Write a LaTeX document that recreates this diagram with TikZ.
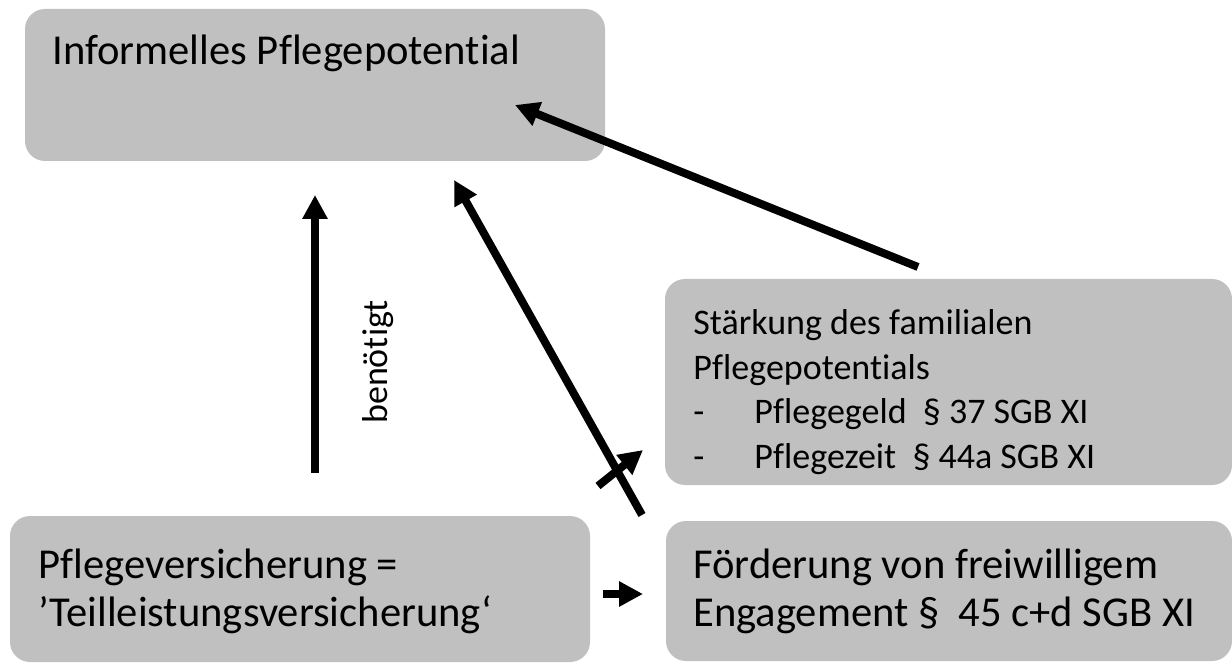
\documentclass[tikz,border=0pt]{standalone}
\usepackage{fontspec}
\setmainfont{Carlito}[Ligatures=NoCommon]
\usetikzlibrary{arrows.meta,positioning}
\definecolor{boxgray}{RGB}{192,192,192}

\begin{document}
\begin{tikzpicture}[x=0.5pt, y=-0.5pt, >={Triangle[length=12pt,width=12pt]},
    box/.style={rectangle, fill=boxgray, rounded corners=10pt, inner sep=0,
      outer sep=0, anchor=north west},
    txt/.style={anchor=base west, inner sep=0},
    bigfont/.style={font=\fontsize{21.3}{24}\selectfont},
    smallfont/.style={font=\fontsize{18}{22.2}\selectfont},
    arrowline/.style={->, line width=4pt}]

  \useasboundingbox (0,0) rectangle (1232,663);

  \node[box, minimum width=290pt, minimum height=76pt] (pflegepot) at (25,9) {};
  \node[box, minimum width=283.5pt, minimum height=103pt] (staerkung) at (665,279) {};
  \node[box, minimum width=290pt, minimum height=73pt] (versicherung) at (10,516) {};
  \node[box, minimum width=283pt, minimum height=70pt] (foerderung) at (666,521) {};

  \node[txt, bigfont] (pflegepottext) at (52,65) {Informelles Pflegepotential};
  \node[txt, smallfont] (staerkungtext) at (693,335)
  {\begin{tabular}[t]{@{}l@{}}Stärkung des familialen\\ Pflegepotentials\\
      \makebox[30.5pt][l]{-}Pflegegeld\ \ § 37 SGB XI\\
      \makebox[30.5pt][l]{-}Pflegezeit\ \ § 44a SGB XI\end{tabular}};
  \node[txt, bigfont] (versicherungtext) at (38,578)
  {\begin{tabular}[t]{@{}l@{}}Pflegeversicherung =\\ ’Teilleistungsversicherung‘\end{tabular}};
  \node[txt, bigfont] (foerderungtext) at (693,578)
  {\begin{tabular}[t]{@{}l@{}}Förderung von freiwilligem\\ Engagement §\ \ 45 c+d SGB XI\end{tabular}};

  \node[smallfont, rotate=90] (benoetigt) at (378,362) {benötigt};

  \coordinate (vtail) at (315,473);
  \coordinate (vtip) at (315,195);
  \coordinate (ftail) at (642,515);
  \coordinate (ftip) at (454,180);
  \coordinate (stail) at (918,267);
  \coordinate (stip) at (515,105);
  \coordinate (ktail) at (598,486);
  \coordinate (ktip) at (643,450);
  \coordinate (rtail) at (603,594);
  \coordinate (rtip) at (643,594);

  \draw[arrowline] (vtail) -- (vtip);
  \draw[arrowline] (ftail) -- (ftip);
  \draw[arrowline] (stail) -- (stip);
  \draw[arrowline] (ktail) -- (ktip);
  \draw[arrowline] (rtail) -- (rtip);

\end{tikzpicture}
\end{document}
